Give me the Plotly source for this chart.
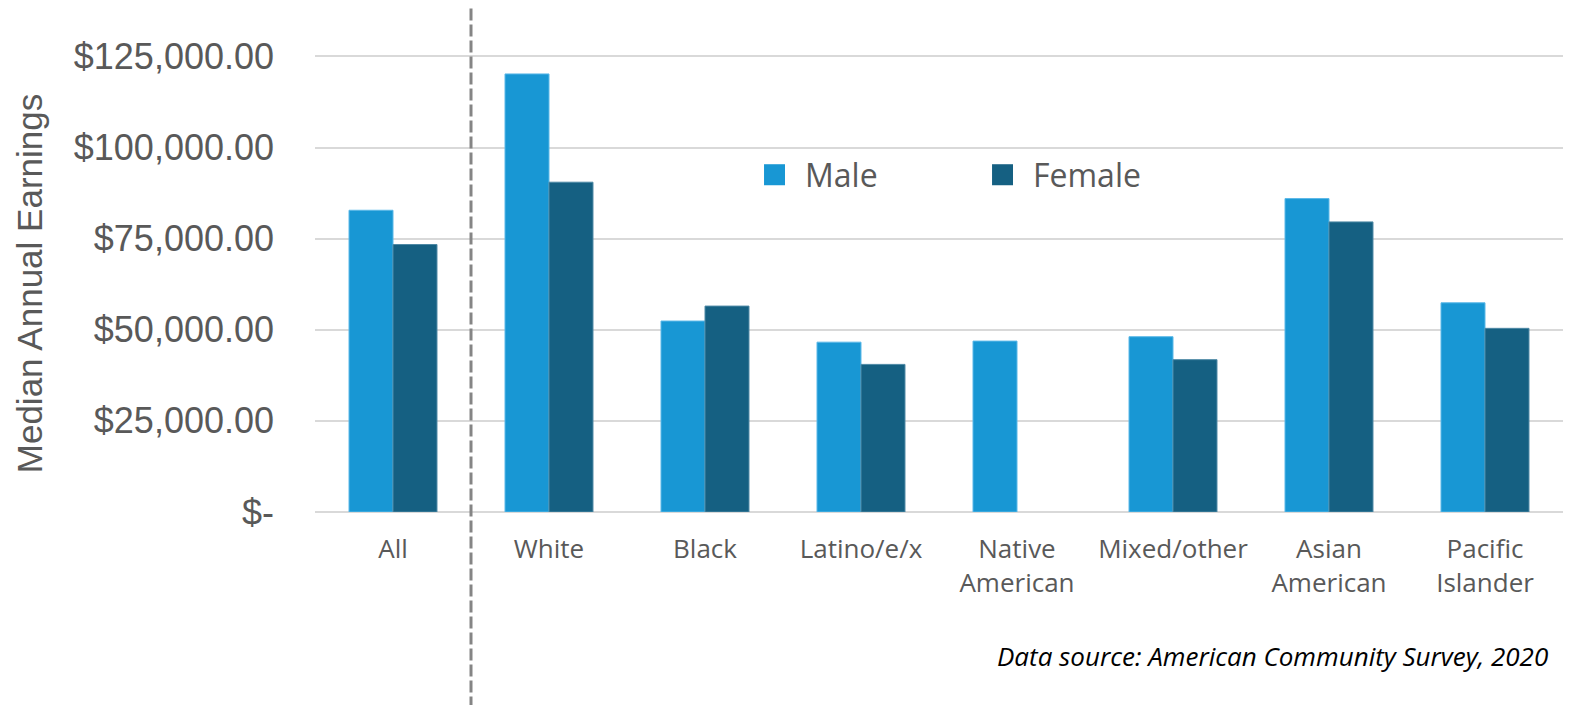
import plotly.graph_objects as go

# categories and values
categories = ["All", "White", "Black", "Latino/e/x", "Native<br>American",
              "Mixed/other", "Asian<br>American", "Pacific<br>Islander"]
male = [82800, 120200, 52400, 46600, 46900, 48100, 86000, 57400]
female = [73400, 90500, 56500, 40500, None, 41800, 79600, 50400]

tick_vals = [0, 25000, 50000, 75000, 100000, 125000]
tick_text = ["$-", "$25,000.00", "$50,000.00", "$75,000.00",
             "$100,000.00", "$125,000.00"]

MALE_COLOR = "#1897D4"
FEMALE_COLOR = "#156082"
TEXT_COLOR = "#595959"

fig = go.Figure()
fig.add_trace(go.Bar(
    x=categories, y=male, name="Male",
    marker=dict(color=MALE_COLOR, line=dict(color="#5BB8E8", width=1)),
))
fig.add_trace(go.Bar(
    x=categories, y=female, name="Female",
    marker=dict(color=FEMALE_COLOR, line=dict(color="#4E89A5", width=1)),
))

# page body has an 8px margin, so the figure is sized and placed to suit
fig.update_layout(
    width=1564, height=697,
    paper_bgcolor="white", plot_bgcolor="white",
    margin=dict(l=307, r=9, t=47, b=193),
    barmode="group", bargap=0.436, bargroupgap=0,
    showlegend=False,
    font=dict(family="Open Sans", color=TEXT_COLOR),
)

fig.update_xaxes(
    showgrid=False, showline=False, zeroline=False,
    tickfont=dict(family="Open Sans", size=26, color=TEXT_COLOR),
    ticks="outside", ticklen=14, tickcolor="rgba(0,0,0,0)",
)
fig.update_yaxes(
    range=[0, 125400],
    tickvals=tick_vals, ticktext=tick_text,
    tickfont=dict(family="Liberation Sans", size=36, color=TEXT_COLOR),
    ticklabelstandoff=40,
    showgrid=True, gridcolor="#D9D9D9", gridwidth=2,
    zeroline=True, zerolinecolor="#D9D9D9", zerolinewidth=2,
    title=dict(text="Median Annual Earnings", standoff=20,
               font=dict(family="Liberation Sans", size=35, color=TEXT_COLOR)),
)

# dashed divider between "All" and the groups
fig.add_shape(type="line", xref="paper", yref="paper",
              x0=0.125, x1=0.125, y0=-0.43, y1=1.105,
              line=dict(color="#858585", width=3, dash="12px,4px"))

# legend drawn by hand to get large square swatches
for x0, color, label in [(0.3598, MALE_COLOR, "Male"), (0.5425, FEMALE_COLOR, "Female")]:
    fig.add_shape(type="rect", xref="paper", yref="paper",
                  x0=x0, x1=x0 + 0.0168, y0=0.715, y1=0.761,
                  fillcolor=color, line=dict(width=0))
    fig.add_annotation(xref="paper", yref="paper", x=x0 + 0.031, y=0.739,
                       text=label, showarrow=False, xanchor="left", yanchor="middle",
                       font=dict(family="Open Sans", size=32, color=TEXT_COLOR))

fig.add_annotation(xref="paper", yref="paper", x=0.9895, y=-0.315,
                   text="<i>Data source: American Community Survey, 2020</i>",
                   showarrow=False, xanchor="right", yanchor="middle",
                   font=dict(family="Open Sans", size=26, color="#000000"))

fig.write_html("out.html")
